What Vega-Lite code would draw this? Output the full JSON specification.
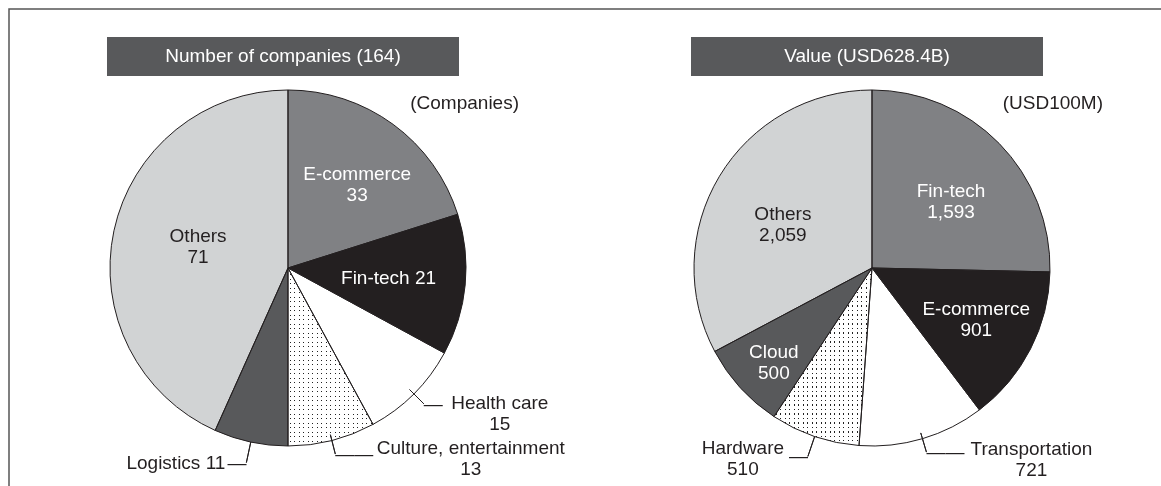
{
  "$schema": "https://vega.github.io/schema/vega-lite/v6.json",
  "autosize": {"type": "none"},
  "padding": {"left": 9, "top": 9, "right": -6, "bottom": -25},
  "width": 1158,
  "height": 502,
  "background": "#ffffff",
  "config": {
    "view": {"stroke": "#555555", "strokeWidth": 1.5},
    "font": "Liberation Sans",
    "text": {"font": "Liberation Sans", "fontSize": 19, "baseline": "middle", "lineHeight": 21}
  },
  "layer": [
    {
      "data": {"values": [
        {"pie": "count", "rank": 1, "cat": "E-commerce", "value": 33},
        {"pie": "count", "rank": 2, "cat": "Fin-tech", "value": 21},
        {"pie": "count", "rank": 3, "cat": "Health care", "value": 15},
        {"pie": "count", "rank": 4, "cat": "Culture, entertainment", "value": 13},
        {"pie": "count", "rank": 5, "cat": "Logistics", "value": 11},
        {"pie": "count", "rank": 6, "cat": "Others", "value": 71},
        {"pie": "value", "rank": 1, "cat": "Fin-tech", "value": 1593},
        {"pie": "value", "rank": 2, "cat": "E-commerce", "value": 901},
        {"pie": "value", "rank": 3, "cat": "Transportation", "value": 721},
        {"pie": "value", "rank": 4, "cat": "Hardware", "value": 510},
        {"pie": "value", "rank": 5, "cat": "Cloud", "value": 500},
        {"pie": "value", "rank": 6, "cat": "Others", "value": 2059}
      ]},
      "encoding": {
        "x": {"field": "pie", "type": "nominal", "axis": null, "scale": {"type": "point", "domain": ["count", "value"], "padding": 0.49144, "align": 0.48606}},
        "y": {"datum": "P", "type": "nominal", "axis": null, "scale": {"type": "point", "domain": ["H", "P"], "padding": 0.68676, "align": 0.16351}},
        "theta": {"field": "value", "type": "quantitative", "stack": "normalize"},
        "order": {"field": "rank", "type": "quantitative"}
      },
      "resolve": {"scale": {"radius": "independent"}},
      "layer": [
        {
          "mark": {"type": "arc", "strokeWidth": 0},
          "encoding": {
            "radius": {"field": "pie", "type": "nominal", "scale": {"type": "point", "domain": ["count", "value"], "range": [178, 178], "padding": 0}},
            "radius2": {"value": 0},
            "fill": {"field": "rank", "type": "ordinal", "legend": null, "scale": {"domain": [1, 2, 3, 4, 5, 6], "range": ["#808184", "#231f20", "#ffffff", "#ffffff", "#58595b", "#d1d3d4"]}}
          }
        },
        {
          "mark": {"type": "arc", "strokeWidth": 0, "fill": {"gradient": "linear", "x1": 0, "y1": 0, "x2": 0, "y2": 1, "stops": [
            {"offset": 0, "color": "#fff"},
            {"offset": 0.0087, "color": "#fff"}, {"offset": 0.0087, "color": "#222"}, {"offset": 0.0166, "color": "#222"}, {"offset": 0.0166, "color": "#fff"},
            {"offset": 0.034, "color": "#fff"}, {"offset": 0.034, "color": "#222"}, {"offset": 0.0419, "color": "#222"}, {"offset": 0.0419, "color": "#fff"},
            {"offset": 0.0593, "color": "#fff"}, {"offset": 0.0593, "color": "#222"}, {"offset": 0.0671, "color": "#222"}, {"offset": 0.0671, "color": "#fff"},
            {"offset": 0.0845, "color": "#fff"}, {"offset": 0.0845, "color": "#222"}, {"offset": 0.0924, "color": "#222"}, {"offset": 0.0924, "color": "#fff"},
            {"offset": 0.1098, "color": "#fff"}, {"offset": 0.1098, "color": "#222"}, {"offset": 0.1177, "color": "#222"}, {"offset": 0.1177, "color": "#fff"},
            {"offset": 0.1351, "color": "#fff"}, {"offset": 0.1351, "color": "#222"}, {"offset": 0.143, "color": "#222"}, {"offset": 0.143, "color": "#fff"},
            {"offset": 0.1604, "color": "#fff"}, {"offset": 0.1604, "color": "#222"}, {"offset": 0.1683, "color": "#222"}, {"offset": 0.1683, "color": "#fff"},
            {"offset": 0.1857, "color": "#fff"}, {"offset": 0.1857, "color": "#222"}, {"offset": 0.1935, "color": "#222"}, {"offset": 0.1935, "color": "#fff"},
            {"offset": 0.2109, "color": "#fff"}, {"offset": 0.2109, "color": "#222"}, {"offset": 0.2188, "color": "#222"}, {"offset": 0.2188, "color": "#fff"},
            {"offset": 0.2362, "color": "#fff"}, {"offset": 0.2362, "color": "#222"}, {"offset": 0.2441, "color": "#222"}, {"offset": 0.2441, "color": "#fff"},
            {"offset": 0.2615, "color": "#fff"}, {"offset": 0.2615, "color": "#222"}, {"offset": 0.2694, "color": "#222"}, {"offset": 0.2694, "color": "#fff"},
            {"offset": 0.2868, "color": "#fff"}, {"offset": 0.2868, "color": "#222"}, {"offset": 0.2947, "color": "#222"}, {"offset": 0.2947, "color": "#fff"},
            {"offset": 0.3121, "color": "#fff"}, {"offset": 0.3121, "color": "#222"}, {"offset": 0.3199, "color": "#222"}, {"offset": 0.3199, "color": "#fff"},
            {"offset": 0.3373, "color": "#fff"}, {"offset": 0.3373, "color": "#222"}, {"offset": 0.3452, "color": "#222"}, {"offset": 0.3452, "color": "#fff"},
            {"offset": 0.3626, "color": "#fff"}, {"offset": 0.3626, "color": "#222"}, {"offset": 0.3705, "color": "#222"}, {"offset": 0.3705, "color": "#fff"},
            {"offset": 0.3879, "color": "#fff"}, {"offset": 0.3879, "color": "#222"}, {"offset": 0.3958, "color": "#222"}, {"offset": 0.3958, "color": "#fff"},
            {"offset": 0.4132, "color": "#fff"}, {"offset": 0.4132, "color": "#222"}, {"offset": 0.4211, "color": "#222"}, {"offset": 0.4211, "color": "#fff"},
            {"offset": 0.4385, "color": "#fff"}, {"offset": 0.4385, "color": "#222"}, {"offset": 0.4463, "color": "#222"}, {"offset": 0.4463, "color": "#fff"},
            {"offset": 0.4637, "color": "#fff"}, {"offset": 0.4637, "color": "#222"}, {"offset": 0.4716, "color": "#222"}, {"offset": 0.4716, "color": "#fff"},
            {"offset": 0.489, "color": "#fff"}, {"offset": 0.489, "color": "#222"}, {"offset": 0.4969, "color": "#222"}, {"offset": 0.4969, "color": "#fff"},
            {"offset": 0.5143, "color": "#fff"}, {"offset": 0.5143, "color": "#222"}, {"offset": 0.5222, "color": "#222"}, {"offset": 0.5222, "color": "#fff"},
            {"offset": 0.5396, "color": "#fff"}, {"offset": 0.5396, "color": "#222"}, {"offset": 0.5475, "color": "#222"}, {"offset": 0.5475, "color": "#fff"},
            {"offset": 0.5649, "color": "#fff"}, {"offset": 0.5649, "color": "#222"}, {"offset": 0.5727, "color": "#222"}, {"offset": 0.5727, "color": "#fff"},
            {"offset": 0.5901, "color": "#fff"}, {"offset": 0.5901, "color": "#222"}, {"offset": 0.598, "color": "#222"}, {"offset": 0.598, "color": "#fff"},
            {"offset": 0.6154, "color": "#fff"}, {"offset": 0.6154, "color": "#222"}, {"offset": 0.6233, "color": "#222"}, {"offset": 0.6233, "color": "#fff"},
            {"offset": 0.6407, "color": "#fff"}, {"offset": 0.6407, "color": "#222"}, {"offset": 0.6486, "color": "#222"}, {"offset": 0.6486, "color": "#fff"},
            {"offset": 0.666, "color": "#fff"}, {"offset": 0.666, "color": "#222"}, {"offset": 0.6739, "color": "#222"}, {"offset": 0.6739, "color": "#fff"},
            {"offset": 0.6913, "color": "#fff"}, {"offset": 0.6913, "color": "#222"}, {"offset": 0.6991, "color": "#222"}, {"offset": 0.6991, "color": "#fff"},
            {"offset": 0.7165, "color": "#fff"}, {"offset": 0.7165, "color": "#222"}, {"offset": 0.7244, "color": "#222"}, {"offset": 0.7244, "color": "#fff"},
            {"offset": 0.7418, "color": "#fff"}, {"offset": 0.7418, "color": "#222"}, {"offset": 0.7497, "color": "#222"}, {"offset": 0.7497, "color": "#fff"},
            {"offset": 0.7671, "color": "#fff"}, {"offset": 0.7671, "color": "#222"}, {"offset": 0.775, "color": "#222"}, {"offset": 0.775, "color": "#fff"},
            {"offset": 0.7924, "color": "#fff"}, {"offset": 0.7924, "color": "#222"}, {"offset": 0.8003, "color": "#222"}, {"offset": 0.8003, "color": "#fff"},
            {"offset": 0.8177, "color": "#fff"}, {"offset": 0.8177, "color": "#222"}, {"offset": 0.8255, "color": "#222"}, {"offset": 0.8255, "color": "#fff"},
            {"offset": 0.8429, "color": "#fff"}, {"offset": 0.8429, "color": "#222"}, {"offset": 0.8508, "color": "#222"}, {"offset": 0.8508, "color": "#fff"},
            {"offset": 0.8682, "color": "#fff"}, {"offset": 0.8682, "color": "#222"}, {"offset": 0.8761, "color": "#222"}, {"offset": 0.8761, "color": "#fff"},
            {"offset": 0.8935, "color": "#fff"}, {"offset": 0.8935, "color": "#222"}, {"offset": 0.9014, "color": "#222"}, {"offset": 0.9014, "color": "#fff"},
            {"offset": 0.9188, "color": "#fff"}, {"offset": 0.9188, "color": "#222"}, {"offset": 0.9267, "color": "#222"}, {"offset": 0.9267, "color": "#fff"},
            {"offset": 0.9441, "color": "#fff"}, {"offset": 0.9441, "color": "#222"}, {"offset": 0.9519, "color": "#222"}, {"offset": 0.9519, "color": "#fff"},
            {"offset": 0.9693, "color": "#fff"}, {"offset": 0.9693, "color": "#222"}, {"offset": 0.9772, "color": "#222"}, {"offset": 0.9772, "color": "#fff"},
            {"offset": 1, "color": "#fff"}
          ]}},
          "encoding": {
            "radius": {"field": "pie", "type": "nominal", "scale": {"type": "point", "domain": ["count", "value"], "range": [178, 178], "padding": 0}},
            "radius2": {"value": 0},
            "fillOpacity": {"condition": {"test": "datum.rank == 4", "value": 1}, "value": 0}
          }
        },
        {
          "mark": {"type": "arc", "strokeWidth": 0, "blend": "lighten", "fill": {"gradient": "linear", "x1": 0, "y1": 0, "x2": 1, "y2": 0, "stops": [
            {"offset": 0, "color": "#fff"},
            {"offset": 0.0182, "color": "#fff"}, {"offset": 0.0182, "color": "#222"}, {"offset": 0.0347, "color": "#222"}, {"offset": 0.0347, "color": "#fff"},
            {"offset": 0.0712, "color": "#fff"}, {"offset": 0.0712, "color": "#222"}, {"offset": 0.0876, "color": "#222"}, {"offset": 0.0876, "color": "#fff"},
            {"offset": 0.1241, "color": "#fff"}, {"offset": 0.1241, "color": "#222"}, {"offset": 0.1406, "color": "#222"}, {"offset": 0.1406, "color": "#fff"},
            {"offset": 0.1771, "color": "#fff"}, {"offset": 0.1771, "color": "#222"}, {"offset": 0.1935, "color": "#222"}, {"offset": 0.1935, "color": "#fff"},
            {"offset": 0.23, "color": "#fff"}, {"offset": 0.23, "color": "#222"}, {"offset": 0.2465, "color": "#222"}, {"offset": 0.2465, "color": "#fff"},
            {"offset": 0.2829, "color": "#fff"}, {"offset": 0.2829, "color": "#222"}, {"offset": 0.2994, "color": "#222"}, {"offset": 0.2994, "color": "#fff"},
            {"offset": 0.3359, "color": "#fff"}, {"offset": 0.3359, "color": "#222"}, {"offset": 0.3524, "color": "#222"}, {"offset": 0.3524, "color": "#fff"},
            {"offset": 0.3888, "color": "#fff"}, {"offset": 0.3888, "color": "#222"}, {"offset": 0.4053, "color": "#222"}, {"offset": 0.4053, "color": "#fff"},
            {"offset": 0.4418, "color": "#fff"}, {"offset": 0.4418, "color": "#222"}, {"offset": 0.4582, "color": "#222"}, {"offset": 0.4582, "color": "#fff"},
            {"offset": 0.4947, "color": "#fff"}, {"offset": 0.4947, "color": "#222"}, {"offset": 0.5112, "color": "#222"}, {"offset": 0.5112, "color": "#fff"},
            {"offset": 0.5476, "color": "#fff"}, {"offset": 0.5476, "color": "#222"}, {"offset": 0.5641, "color": "#222"}, {"offset": 0.5641, "color": "#fff"},
            {"offset": 0.6006, "color": "#fff"}, {"offset": 0.6006, "color": "#222"}, {"offset": 0.6171, "color": "#222"}, {"offset": 0.6171, "color": "#fff"},
            {"offset": 0.6535, "color": "#fff"}, {"offset": 0.6535, "color": "#222"}, {"offset": 0.67, "color": "#222"}, {"offset": 0.67, "color": "#fff"},
            {"offset": 0.7065, "color": "#fff"}, {"offset": 0.7065, "color": "#222"}, {"offset": 0.7229, "color": "#222"}, {"offset": 0.7229, "color": "#fff"},
            {"offset": 0.7594, "color": "#fff"}, {"offset": 0.7594, "color": "#222"}, {"offset": 0.7759, "color": "#222"}, {"offset": 0.7759, "color": "#fff"},
            {"offset": 0.8124, "color": "#fff"}, {"offset": 0.8124, "color": "#222"}, {"offset": 0.8288, "color": "#222"}, {"offset": 0.8288, "color": "#fff"},
            {"offset": 0.8653, "color": "#fff"}, {"offset": 0.8653, "color": "#222"}, {"offset": 0.8818, "color": "#222"}, {"offset": 0.8818, "color": "#fff"},
            {"offset": 0.9182, "color": "#fff"}, {"offset": 0.9182, "color": "#222"}, {"offset": 0.9347, "color": "#222"}, {"offset": 0.9347, "color": "#fff"},
            {"offset": 0.9712, "color": "#fff"}, {"offset": 0.9712, "color": "#222"}, {"offset": 0.9876, "color": "#222"}, {"offset": 0.9876, "color": "#fff"},
            {"offset": 1, "color": "#fff"}
          ]}},
          "encoding": {
            "radius": {"field": "pie", "type": "nominal", "scale": {"type": "point", "domain": ["count", "value"], "range": [178, 178], "padding": 0}},
            "radius2": {"value": 0},
            "fillOpacity": {"condition": {"test": "datum.rank == 4 && datum.pie == 'count'", "value": 1}, "value": 0}
          }
        },
        {
          "mark": {"type": "arc", "strokeWidth": 0, "blend": "lighten", "fill": {"gradient": "linear", "x1": 0, "y1": 0, "x2": 1, "y2": 0, "stops": [
            {"offset": 0, "color": "#fff"},
            {"offset": 0.0158, "color": "#fff"}, {"offset": 0.0158, "color": "#222"}, {"offset": 0.0301, "color": "#222"}, {"offset": 0.0301, "color": "#fff"},
            {"offset": 0.0617, "color": "#fff"}, {"offset": 0.0617, "color": "#222"}, {"offset": 0.076, "color": "#222"}, {"offset": 0.076, "color": "#fff"},
            {"offset": 0.1077, "color": "#fff"}, {"offset": 0.1077, "color": "#222"}, {"offset": 0.1219, "color": "#222"}, {"offset": 0.1219, "color": "#fff"},
            {"offset": 0.1536, "color": "#fff"}, {"offset": 0.1536, "color": "#222"}, {"offset": 0.1679, "color": "#222"}, {"offset": 0.1679, "color": "#fff"},
            {"offset": 0.1995, "color": "#fff"}, {"offset": 0.1995, "color": "#222"}, {"offset": 0.2138, "color": "#222"}, {"offset": 0.2138, "color": "#fff"},
            {"offset": 0.2454, "color": "#fff"}, {"offset": 0.2454, "color": "#222"}, {"offset": 0.2597, "color": "#222"}, {"offset": 0.2597, "color": "#fff"},
            {"offset": 0.2913, "color": "#fff"}, {"offset": 0.2913, "color": "#222"}, {"offset": 0.3056, "color": "#222"}, {"offset": 0.3056, "color": "#fff"},
            {"offset": 0.3372, "color": "#fff"}, {"offset": 0.3372, "color": "#222"}, {"offset": 0.3515, "color": "#222"}, {"offset": 0.3515, "color": "#fff"},
            {"offset": 0.3832, "color": "#fff"}, {"offset": 0.3832, "color": "#222"}, {"offset": 0.3974, "color": "#222"}, {"offset": 0.3974, "color": "#fff"},
            {"offset": 0.4291, "color": "#fff"}, {"offset": 0.4291, "color": "#222"}, {"offset": 0.4434, "color": "#222"}, {"offset": 0.4434, "color": "#fff"},
            {"offset": 0.475, "color": "#fff"}, {"offset": 0.475, "color": "#222"}, {"offset": 0.4893, "color": "#222"}, {"offset": 0.4893, "color": "#fff"},
            {"offset": 0.5209, "color": "#fff"}, {"offset": 0.5209, "color": "#222"}, {"offset": 0.5352, "color": "#222"}, {"offset": 0.5352, "color": "#fff"},
            {"offset": 0.5668, "color": "#fff"}, {"offset": 0.5668, "color": "#222"}, {"offset": 0.5811, "color": "#222"}, {"offset": 0.5811, "color": "#fff"},
            {"offset": 0.6128, "color": "#fff"}, {"offset": 0.6128, "color": "#222"}, {"offset": 0.627, "color": "#222"}, {"offset": 0.627, "color": "#fff"},
            {"offset": 0.6587, "color": "#fff"}, {"offset": 0.6587, "color": "#222"}, {"offset": 0.673, "color": "#222"}, {"offset": 0.673, "color": "#fff"},
            {"offset": 0.7046, "color": "#fff"}, {"offset": 0.7046, "color": "#222"}, {"offset": 0.7189, "color": "#222"}, {"offset": 0.7189, "color": "#fff"},
            {"offset": 0.7505, "color": "#fff"}, {"offset": 0.7505, "color": "#222"}, {"offset": 0.7648, "color": "#222"}, {"offset": 0.7648, "color": "#fff"},
            {"offset": 0.7964, "color": "#fff"}, {"offset": 0.7964, "color": "#222"}, {"offset": 0.8107, "color": "#222"}, {"offset": 0.8107, "color": "#fff"},
            {"offset": 0.8423, "color": "#fff"}, {"offset": 0.8423, "color": "#222"}, {"offset": 0.8566, "color": "#222"}, {"offset": 0.8566, "color": "#fff"},
            {"offset": 0.8883, "color": "#fff"}, {"offset": 0.8883, "color": "#222"}, {"offset": 0.9025, "color": "#222"}, {"offset": 0.9025, "color": "#fff"},
            {"offset": 0.9342, "color": "#fff"}, {"offset": 0.9342, "color": "#222"}, {"offset": 0.9485, "color": "#222"}, {"offset": 0.9485, "color": "#fff"},
            {"offset": 0.9801, "color": "#fff"}, {"offset": 0.9801, "color": "#222"}, {"offset": 0.9944, "color": "#222"}, {"offset": 0.9944, "color": "#fff"},
            {"offset": 1, "color": "#fff"}
          ]}},
          "encoding": {
            "radius": {"field": "pie", "type": "nominal", "scale": {"type": "point", "domain": ["count", "value"], "range": [178, 178], "padding": 0}},
            "radius2": {"value": 0},
            "fillOpacity": {"condition": {"test": "datum.rank == 4 && datum.pie == 'value'", "value": 1}, "value": 0}
          }
        },
        {
          "mark": {"type": "arc", "fillOpacity": 0, "stroke": "#231f20", "strokeWidth": 1},
          "encoding": {
            "radius": {"field": "pie", "type": "nominal", "scale": {"type": "point", "domain": ["count", "value"], "range": [178, 178], "padding": 0}},
            "radius2": {"value": 0}
          }
        },
        {
          "mark": {"type": "arc", "padAngle": 2, "fillOpacity": 0, "stroke": "#231f20", "strokeWidth": 1},
          "encoding": {
            "radius": {"field": "pie", "type": "nominal", "scale": {"type": "point", "domain": ["count", "value"], "range": [192, 192], "padding": 0}},
            "radius2": {"value": 172},
            "strokeOpacity": {"condition": {"test": "(datum.pie == 'count' && (datum.rank == 3 || datum.rank == 4)) || (datum.pie == 'value' && datum.rank == 3)", "value": 1}, "value": 0}
          }
        },
        {
          "mark": {"type": "arc", "padAngle": 2, "fillOpacity": 0, "stroke": "#231f20", "strokeWidth": 1},
          "encoding": {
            "radius": {"field": "pie", "type": "nominal", "scale": {"type": "point", "domain": ["count", "value"], "range": [199, 199], "padding": 0}},
            "radius2": {"value": 178},
            "strokeOpacity": {"condition": {"test": "(datum.pie == 'count' && datum.rank == 5) || (datum.pie == 'value' && datum.rank == 4)", "value": 1}, "value": 0}
          }
        },
        {
          "mark": {"type": "text", "align": "left", "color": "#231f20"},
          "encoding": {
            "radius": {"field": "pie", "type": "nominal", "scale": {"type": "point", "domain": ["count", "value"], "range": [192, 192], "padding": 0}},
            "text": {"value": {"expr": "datum.pie == 'count' && datum.rank == 3 ? '—' : ((datum.pie == 'count' && datum.rank == 4) || (datum.pie == 'value' && datum.rank == 3) ? '——' : '')"}}
          }
        },
        {
          "mark": {"type": "text", "align": "right", "color": "#231f20"},
          "encoding": {
            "radius": {"field": "pie", "type": "nominal", "scale": {"type": "point", "domain": ["count", "value"], "range": [199, 199], "padding": 0}},
            "text": {"value": {"expr": "(datum.pie == 'count' && datum.rank == 5) || (datum.pie == 'value' && datum.rank == 4) ? '—' : ''"}}
          }
        },
        {
          "mark": {"type": "text", "align": "center", "color": "#ffffff"},
          "encoding": {
            "radius": {"field": "pie", "type": "nominal", "scale": {"type": "point", "domain": ["count", "value"], "range": [117, 110.6], "padding": 0}},
            "text": {"value": {"expr": "datum.rank == 1 ? [datum.cat, format(datum.value, ',')] : ''"}}
          }
        },
        {
          "mark": {"type": "text", "align": "center", "color": "#ffffff"},
          "encoding": {
            "radius": {"field": "pie", "type": "nominal", "scale": {"type": "point", "domain": ["count", "value"], "range": [101, 101], "padding": 0}},
            "text": {"value": {"expr": "datum.pie == 'count' && datum.rank == 2 ? datum.cat + ' ' + format(datum.value, ',') : ''"}}
          }
        },
        {
          "mark": {"type": "text", "align": "center", "color": "#ffffff", "dx": 5, "dy": -10},
          "encoding": {
            "radius": {"field": "pie", "type": "nominal", "scale": {"type": "point", "domain": ["count", "value"], "range": [111.5, 111.5], "padding": 0}},
            "text": {"value": {"expr": "datum.pie == 'value' && datum.rank == 2 ? [datum.cat, format(datum.value, ',')] : ''"}}
          }
        },
        {
          "mark": {"type": "text", "align": "center", "color": "#ffffff", "dx": -3, "dy": -3},
          "encoding": {
            "radius": {"field": "pie", "type": "nominal", "scale": {"type": "point", "domain": ["count", "value"], "range": [128.6, 128.6], "padding": 0}},
            "text": {"value": {"expr": "datum.pie == 'value' && datum.rank == 5 ? [datum.cat, format(datum.value, ',')] : ''"}}
          }
        },
        {
          "mark": {"type": "text", "align": "center", "color": "#231f20", "dx": 3, "dy": -12},
          "encoding": {
            "radius": {"field": "pie", "type": "nominal", "scale": {"type": "point", "domain": ["count", "value"], "range": [95, 95], "padding": 0}},
            "text": {"value": {"expr": "datum.pie == 'count' && datum.rank == 6 ? [datum.cat, format(datum.value, ',')] : ''"}}
          }
        },
        {
          "mark": {"type": "text", "align": "center", "color": "#231f20"},
          "encoding": {
            "radius": {"field": "pie", "type": "nominal", "scale": {"type": "point", "domain": ["count", "value"], "range": [104, 104], "padding": 0}},
            "text": {"value": {"expr": "datum.pie == 'value' && datum.rank == 6 ? [datum.cat, format(datum.value, ',')] : ''"}}
          }
        },
        {
          "mark": {"type": "text", "align": "center", "color": "#231f20", "dx": 76, "dy": -1},
          "encoding": {
            "radius": {"field": "pie", "type": "nominal", "scale": {"type": "point", "domain": ["count", "value"], "range": [192, 192], "padding": 0}},
            "text": {"value": {"expr": "datum.pie == 'count' && datum.rank == 3 ? [datum.cat, format(datum.value, ',')] : ''"}}
          }
        },
        {
          "mark": {"type": "text", "align": "center", "color": "#231f20", "dx": 135.5, "dy": -6},
          "encoding": {
            "radius": {"field": "pie", "type": "nominal", "scale": {"type": "point", "domain": ["count", "value"], "range": [192, 192], "padding": 0}},
            "text": {"value": {"expr": "datum.pie == 'count' && datum.rank == 4 ? [datum.cat, format(datum.value, ',')] : ''"}}
          }
        },
        {
          "mark": {"type": "text", "align": "center", "color": "#231f20", "dx": 105, "dy": -3},
          "encoding": {
            "radius": {"field": "pie", "type": "nominal", "scale": {"type": "point", "domain": ["count", "value"], "range": [192, 192], "padding": 0}},
            "text": {"value": {"expr": "datum.pie == 'value' && datum.rank == 3 ? [datum.cat, format(datum.value, ',')] : ''"}}
          }
        },
        {
          "mark": {"type": "text", "align": "right", "color": "#231f20", "dx": -21, "dy": 0},
          "encoding": {
            "radius": {"field": "pie", "type": "nominal", "scale": {"type": "point", "domain": ["count", "value"], "range": [199, 199], "padding": 0}},
            "text": {"value": {"expr": "datum.pie == 'count' && datum.rank == 5 ? datum.cat + ' ' + format(datum.value, ',') : ''"}}
          }
        },
        {
          "mark": {"type": "text", "align": "center", "color": "#231f20", "dx": -65, "dy": -8},
          "encoding": {
            "radius": {"field": "pie", "type": "nominal", "scale": {"type": "point", "domain": ["count", "value"], "range": [199, 199], "padding": 0}},
            "text": {"value": {"expr": "datum.pie == 'value' && datum.rank == 4 ? [datum.cat, format(datum.value, ',')] : ''"}}
          }
        }
      ]
    },
    {
      "data": {"values": [
        {"pie": "count", "title": "Number of companies (164)", "unit": "(Companies)"},
        {"pie": "value", "title": "Value (USD628.4B)", "unit": "(USD100M)"}
      ]},
      "encoding": {
        "x": {"field": "pie", "type": "nominal", "axis": null, "scale": {"type": "point", "domain": ["count", "value"], "padding": 0.49144, "align": 0.48606}},
        "y": {"datum": "H", "type": "nominal", "axis": null, "scale": {"type": "point", "domain": ["H", "P"], "padding": 0.68676, "align": 0.16351}}
      },
      "layer": [
        {"mark": {"type": "rect", "fill": "#58595b", "width": 352, "height": 39, "xOffset": -5}},
        {"mark": {"type": "text", "color": "#ffffff", "align": "center", "dx": -5}, "encoding": {"text": {"field": "title"}}},
        {"mark": {"type": "text", "color": "#231f20", "align": "right", "dx": 231, "dy": 46.5}, "encoding": {"text": {"field": "unit"}}}
      ]
    }
  ]
}
